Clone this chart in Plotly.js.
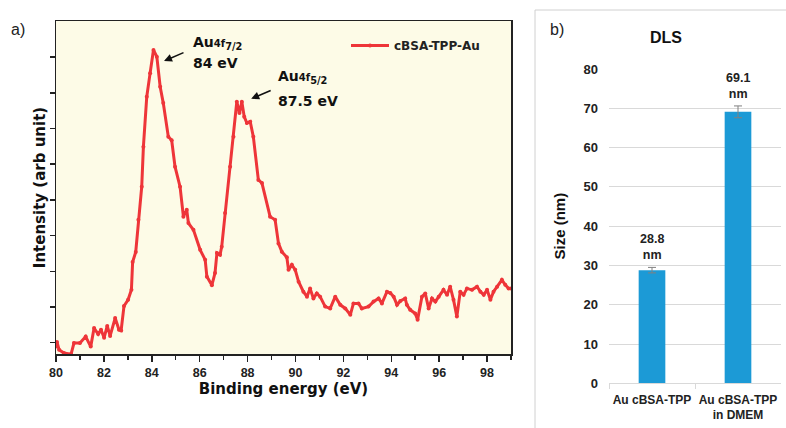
<!DOCTYPE html>
<html>
<head>
<meta charset="utf-8">
<script src="https://cdn.plot.ly/plotly-3.0.1.min.js"></script>
<style>html,body{margin:0;padding:0;background:#fff;}#chart{width:786px;height:428px;}</style>
</head>
<body>
<div id="chart"></div>
<script>
// ---- Panel a) XPS Au 4f spectrum (arbitrary units) ----
var xpsEnergy = [80.0,80.04,80.13,80.33,80.63,80.75,81.0,81.24,81.45,81.59,81.76,81.88,82.01,82.14,82.26,82.47,82.63,82.72,82.84,83.01,83.15,83.2,83.33,83.44,83.58,83.65,83.79,83.93,84.07,84.21,84.35,84.48,84.69,84.83,84.97,85.18,85.32,85.46,85.53,85.74,86.02,86.23,86.3,86.51,86.64,86.72,86.85,86.92,87.06,87.27,87.41,87.55,87.66,87.76,87.86,87.97,88.11,88.24,88.45,88.6,88.94,89.15,89.29,89.43,89.64,89.71,89.85,89.99,90.13,90.33,90.48,90.61,90.75,90.89,91.03,91.24,91.45,91.66,91.87,92.08,92.29,92.42,92.63,92.77,93.05,93.26,93.47,93.61,93.82,93.96,94.1,94.24,94.38,94.58,94.65,94.79,95.0,95.1,95.28,95.42,95.56,95.7,95.84,95.98,96.18,96.33,96.46,96.6,96.74,96.88,97.02,97.16,97.37,97.58,97.72,97.86,98.0,98.14,98.27,98.42,98.62,98.76,98.9,99.0];
var xpsIntensity = [-0.11,0.02,-0.2,-0.29,-0.32,-0.01,-0.01,0.17,-0.11,0.41,0.24,0.36,0.14,0.47,0.19,0.69,0.36,0.34,1.03,1.2,1.48,2.26,2.54,3.44,4.37,5.49,6.89,7.55,8.2,8.01,7.17,6.71,5.77,5.67,4.93,4.37,3.53,3.72,3.35,3.16,2.6,2.32,1.85,1.61,1.95,2.51,2.46,2.69,3.63,4.93,5.77,6.75,6.43,6.75,6.33,6.15,6.19,5.77,4.56,4.47,3.53,3.44,2.78,2.55,2.39,2.04,2.18,2.04,1.71,1.43,1.29,1.52,1.24,1.38,1.29,1.01,0.96,1.29,1.06,0.96,0.78,1.1,1.1,0.96,1.01,1.15,1.24,1.1,1.43,1.39,1.29,1.06,1.17,1.24,1.06,0.92,0.82,0.64,1.29,1.38,0.96,1.24,1.15,1.29,1.48,1.34,1.57,1.2,0.73,1.43,1.34,1.52,1.48,1.57,1.43,1.34,1.48,1.2,1.43,1.57,1.76,1.62,1.52,1.52];
var xpsSeriesName = 'cBSA-TPP-Au';
var xpsTicks = [80,82,84,86,88,90,92,94,96,98];
var intensityTicks = [0,1,2,3,4,5,6,7,8];

// ---- Panel b) DLS sizes ----
var dlsCategories = ['Au cBSA-TPP', 'Au cBSA-TPP<br>in DMEM'];
var dlsSizes = [28.8, 69.1];
var dlsErrors = [0.7, 1.5];
var dlsTicks = [0,10,20,30,40,50,60,70,80];

var W = 786, H = 428;
function px(x){ return x / W; }
function py(y){ return 1 - y / H; }

var red = '#EE3539';
var traces = [
  {
    type: 'scatter', mode: 'lines+markers', name: xpsSeriesName,
    x: xpsEnergy, y: xpsIntensity, xaxis: 'x', yaxis: 'y',
    line: {color: red, width: 3},
    marker: {color: red, size: 4, symbol: 'circle'},
    showlegend: true
  },
  {
    type: 'bar', x: dlsCategories, y: dlsSizes, xaxis: 'x2', yaxis: 'y2',
    marker: {color: '#1C9AD6'}, width: 0.31, showlegend: false,
    error_y: {type: 'data', array: dlsErrors, visible: true, color: '#808080', thickness: 1, width: 4}
  }
];

var boldDV = {family: 'DejaVu Sans', weight: 'bold', color: '#111'};
var annotations = [
  {xref:'paper', yref:'paper', x: px(9), y: py(29), xanchor:'left', yanchor:'middle', showarrow:false,
   text:'a)', font:{family:'Liberation Sans', size:16, color:'#222'}},
  {xref:'paper', yref:'paper', x: px(548), y: py(29), xanchor:'left', yanchor:'middle', showarrow:false,
   text:'b)', font:{family:'Liberation Sans', size:16, color:'#222'}},
  {xref:'paper', yref:'paper', x: px(666), y: py(38), xanchor:'center', yanchor:'middle', showarrow:false,
   text:'DLS', font:{family:'Liberation Sans', size:16, weight:'bold', color:'#111'}},
  // peak labels
  {xref:'paper', yref:'paper', x: px(191), y: py(43), xanchor:'left', yanchor:'middle', showarrow:false,
   text:'Au<span style="font-size:10px">4f</span><sub>7/2</sub>', font:Object.assign({size:14}, boldDV)},
  {xref:'paper', yref:'paper', x: px(191), y: py(63), xanchor:'left', yanchor:'middle', showarrow:false,
   text:'84 eV', font:Object.assign({size:14}, boldDV)},
  {xref:'paper', yref:'paper', x: px(276), y: py(77), xanchor:'left', yanchor:'middle', showarrow:false,
   text:'Au<span style="font-size:10px">4f</span><sub>5/2</sub>', font:Object.assign({size:14}, boldDV)},
  {xref:'paper', yref:'paper', x: px(276), y: py(101), xanchor:'left', yanchor:'middle', showarrow:false,
   text:'87.5 eV', font:Object.assign({size:14}, boldDV)},
  // arrows
  {xref:'x', yref:'y', x: 84.51, y: 7.89, ax: 21, ay: -9, showarrow:true, arrowhead:2, arrowsize:1, arrowwidth:1.6, arrowcolor:'#111', text:''},
  {xref:'x', yref:'y', x: 88.15, y: 6.83, ax: 21, ay: -9, showarrow:true, arrowhead:2, arrowsize:1, arrowwidth:1.6, arrowcolor:'#111', text:''}
];
for (var i = 0; i < dlsCategories.length; i++) {
  annotations.push({
    xref:'x2', yref:'y2', x: dlsCategories[i], y: dlsSizes[i] + dlsErrors[i],
    yanchor:'bottom', xanchor:'center', yshift: 3, showarrow:false,
    text: dlsSizes[i].toFixed(1) + '<br>nm',
    font:{family:'Liberation Sans', size:12.5, weight:'bold', color:'#222'}
  });
}

var layout = {
  width: W, height: H,
  margin: {l:0, r:0, t:0, b:0},
  paper_bgcolor: '#ffffff', plot_bgcolor: 'rgba(0,0,0,0)',
  showlegend: true,
  legend: {x: px(346), y: py(31), xanchor:'left', yanchor:'top', bgcolor:'rgba(0,0,0,0)',
           font:{family:'DejaVu Sans', size:12, weight:'bold', color:'#222'}, itemwidth: 38},
  xaxis: {
    domain: [px(56), px(511)], range: [80, 99], anchor: 'y',
    tickvals: xpsTicks, ticks: 'outside', ticklen: 6, tickwidth: 1.5, tickcolor: '#222',
    minor: {dtick: 1, ticks: 'outside', ticklen: 4, tickwidth: 1.5, tickcolor:'#222'},
    showline: true, linecolor: '#222', linewidth: 1.5, mirror: true, showgrid: false, zeroline: false,
    tickfont: {family:'Liberation Sans', size:12.5, weight:'bold', color:'#222'},
    title: {text: 'Binding energy (eV)', standoff: 5, font: {family:'DejaVu Sans', size:15, weight:'bold', color:'#111'}}
  },
  yaxis: {
    domain: [py(354), py(21)], range: [-0.317, 9.01], anchor: 'x',
    tickvals: intensityTicks, showticklabels: false, ticks: 'outside', ticklen: 5, tickwidth: 1.5, tickcolor: '#222',
    showline: true, linecolor: '#222', linewidth: 1.5, mirror: true, showgrid: false, zeroline: false,
    title: {text: 'Intensity (arb unit)', standoff: 0, font: {family:'DejaVu Sans', size:15, weight:'bold', color:'#111'}}
  },
  xaxis2: {
    domain: [px(609), px(781)], anchor: 'y2', type: 'category',
    showline: true, linecolor: '#d9d9d9', linewidth: 1, ticks: 'outside', tickson: 'boundaries', ticklen: 5, tickcolor: '#d9d9d9',
    showgrid: false, zeroline: false, ticklabelstandoff: 5, tickangle: 0,
    tickfont: {family:'Liberation Sans', size:12, weight:'bold', color:'#222'}
  },
  yaxis2: {
    domain: [py(383.3), py(69)], range: [0, 80], anchor: 'x2',
    tickvals: dlsTicks, showgrid: true, gridcolor: '#d9d9d9', gridwidth: 1, zeroline: false, showline: false,
    ticks: '', ticklabelstandoff: 10, tickfont: {family:'Liberation Sans', size:13, weight:'bold', color:'#222'},
    title: {text: 'Size (nm)', standoff: 14, font: {family:'Liberation Sans', size:15, weight:'bold', color:'#111'}}
  },
  shapes: [
    {type:'rect', xref:'x domain', yref:'y domain', x0:0, x1:1, y0:0, y1:1, layer:'below',
     fillcolor:'#FDFBE7', line:{width:0}},
    {type:'path', xref:'paper', yref:'paper', layer:'below',
     path: 'M ' + px(535) + ' 0 L ' + px(535) + ' ' + py(10) + ' L 1.01 ' + py(10),
     line:{color:'#d0d0d0', width:1}}
  ],
  annotations: annotations
};

Plotly.newPlot('chart', traces, layout, {staticPlot: true, displayModeBar: false});
</script>
</body>
</html>
